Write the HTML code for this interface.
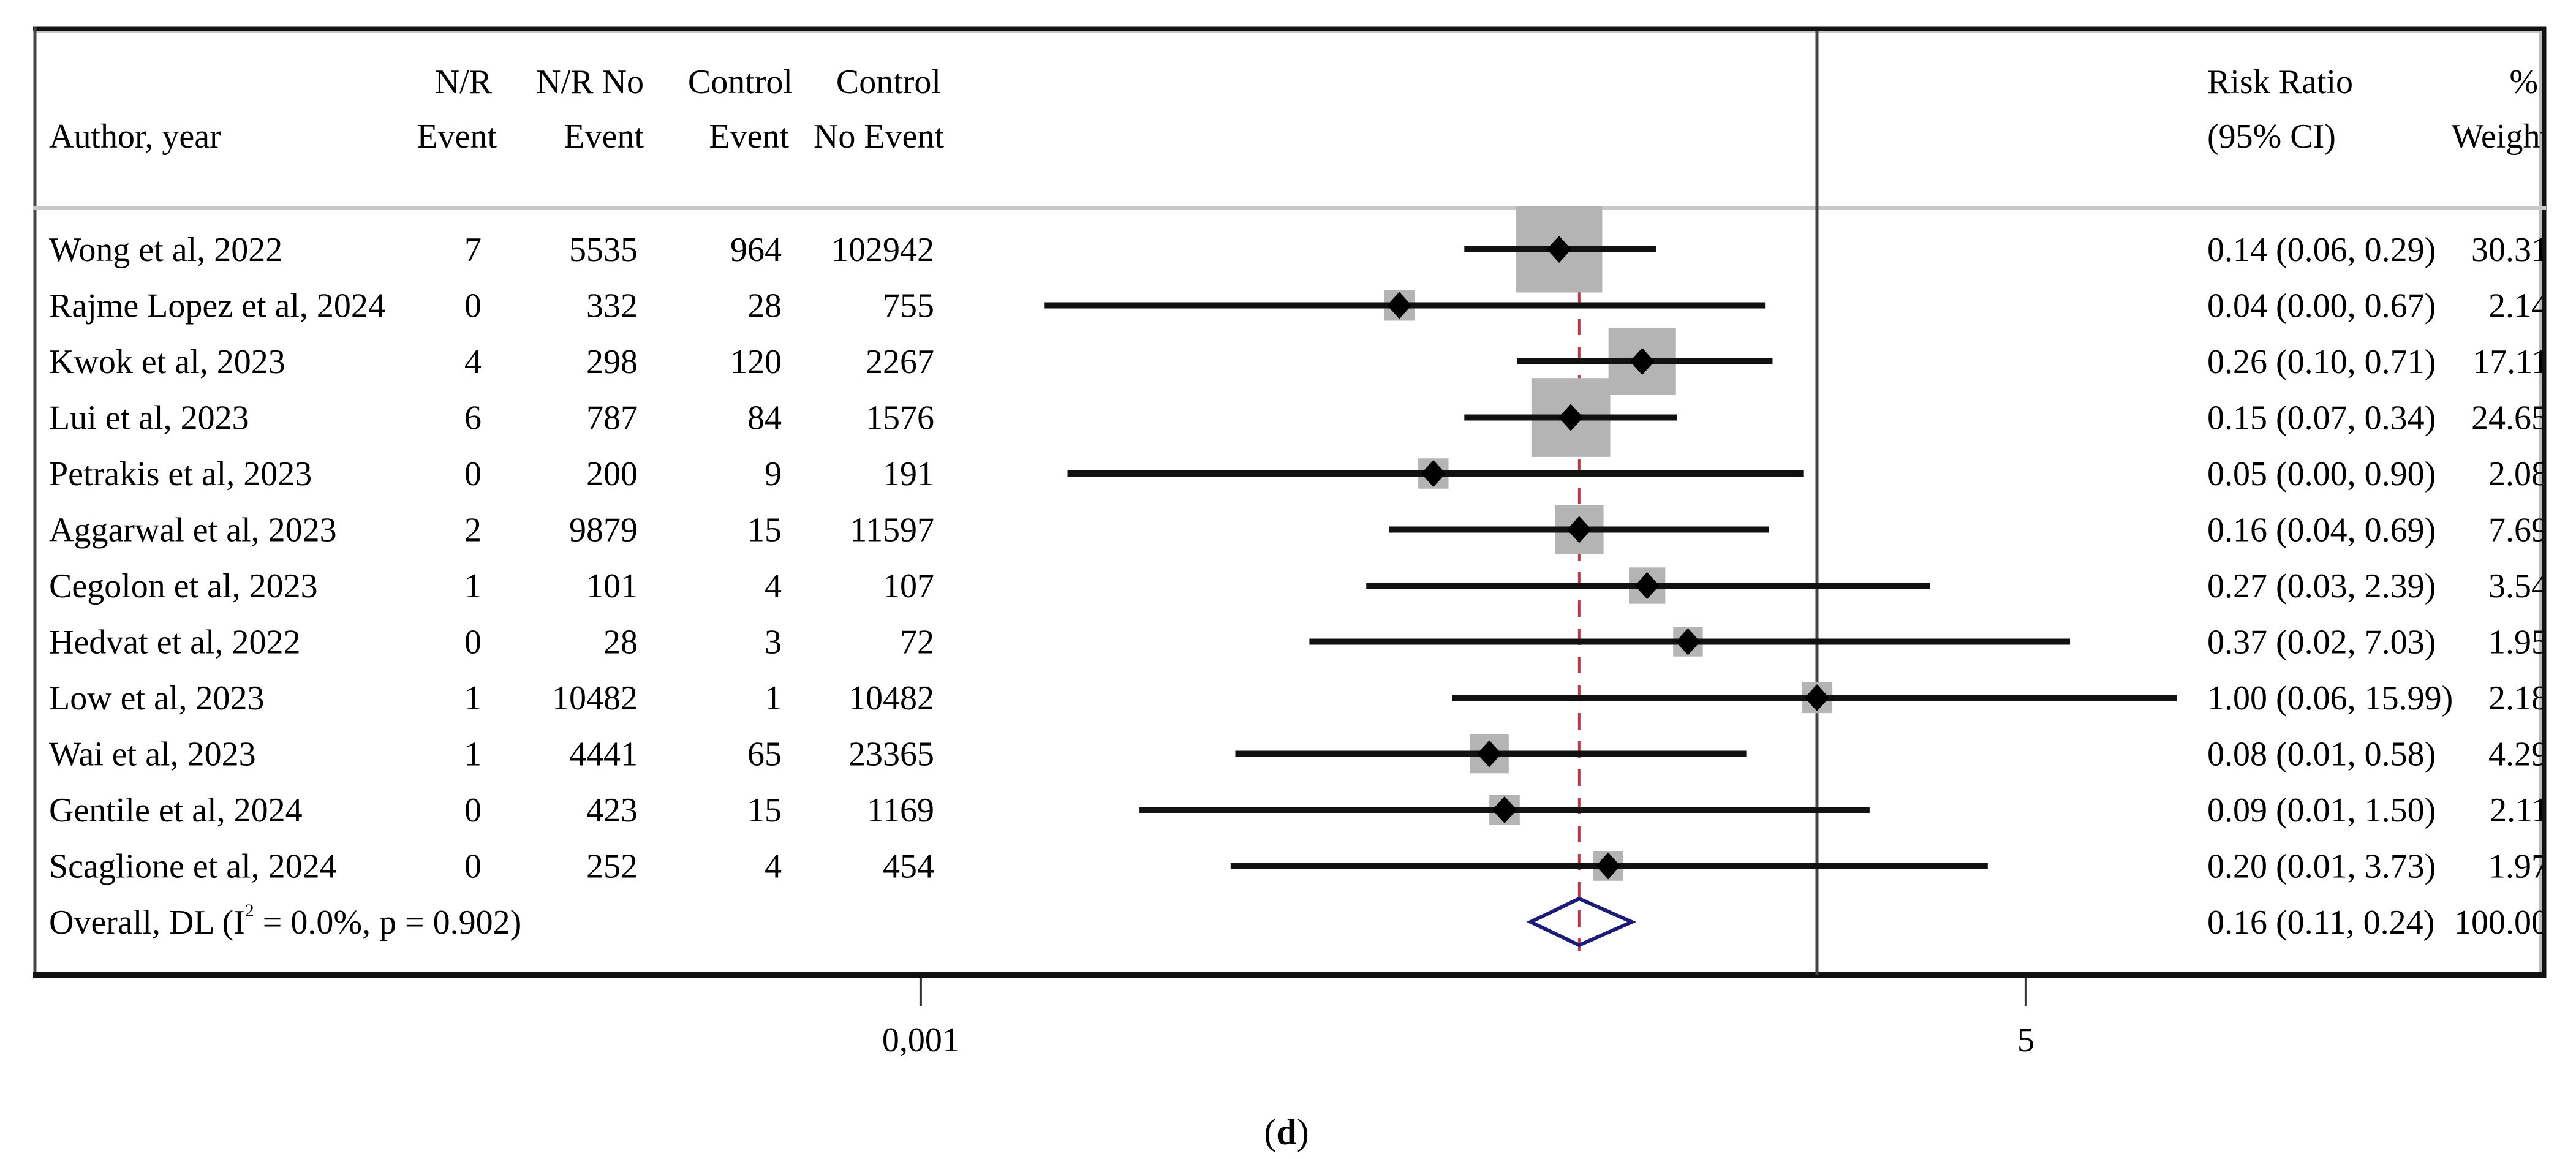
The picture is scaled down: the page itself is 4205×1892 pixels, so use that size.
<!DOCTYPE html>
<html><head><meta charset="utf-8"><style>
html,body{margin:0;padding:0;background:#fff;}
svg{display:block;}
text{font-family:"Liberation Serif",serif;font-size:56px;fill:#000;}
</style></head><body>
<svg id="chart" width="4205" height="1892" viewBox="0 0 4205 1892" xmlns="http://www.w3.org/2000/svg">
<defs><clipPath id="clipR"><rect x="0" y="0" width="4150" height="1892"/></clipPath></defs>
<g id="frame">
  <line x1="54" y1="47" x2="4156" y2="47" stroke="#111" stroke-width="7"/>
  <line x1="58" y1="52" x2="4150" y2="52" stroke="#c4c4c4" stroke-width="4"/>
  <line x1="57" y1="44" x2="57" y2="1597" stroke="#444" stroke-width="5"/>
  <line x1="4153" y1="44" x2="4153" y2="1597" stroke="#111" stroke-width="7"/>
  <line x1="4147" y1="52" x2="4147" y2="1590" stroke="#bbb" stroke-width="4"/>
  <line x1="54" y1="339" x2="4156" y2="339" stroke="#c8c8c8" stroke-width="6"/>
  <line x1="54" y1="1592" x2="4156" y2="1592" stroke="#111" stroke-width="10"/>
</g>
<g id="header">
  <text x="80" y="241">Author, year</text>
  <text text-anchor="end"><tspan x="803" y="152">N/R</tspan><tspan x="811" y="241">Event</tspan></text>
  <text text-anchor="end"><tspan x="1051" y="152">N/R No</tspan><tspan x="1051" y="241">Event</tspan></text>
  <text text-anchor="end"><tspan x="1294" y="152">Control</tspan><tspan x="1288" y="241">Event</tspan></text>
  <text text-anchor="end"><tspan x="1536" y="152">Control</tspan><tspan x="1541" y="241">No Event</tspan></text>
  <text><tspan x="3603" y="152">Risk Ratio</tspan><tspan x="3603" y="241">(95% CI)</tspan></text>
  <g clip-path="url(#clipR)"><text text-anchor="end"><tspan x="4143" y="152">%</tspan><tspan x="4162" y="241">Weight</tspan></text></g>
</g>
<g id="rows"></g>
<g id="marks"></g>
<g id="axis"></g>
<text x="2100" y="1868" text-anchor="middle" style="font-size:60px">(<tspan font-weight="bold">d</tspan>)</text>
</svg>
<script>
const studies = ["Wong et al, 2022","Rajme Lopez et al, 2024","Kwok et al, 2023","Lui et al, 2023","Petrakis et al, 2023","Aggarwal et al, 2023","Cegolon et al, 2023","Hedvat et al, 2022","Low et al, 2023","Wai et al, 2023","Gentile et al, 2024","Scaglione et al, 2024"];
const nrEvent = [7,0,4,6,0,2,1,0,1,1,0,0];
const nrNoEvent = [5535,332,298,787,200,9879,101,28,10482,4441,423,252];
const ctrlEvent = [964,28,120,84,9,15,4,3,1,65,15,4];
const ctrlNoEvent = [102942,755,2267,1576,191,11597,107,72,10482,23365,1169,454];
const rr = [0.137,0.04,0.26,0.15,0.052,0.16,0.27,0.37,1.00,0.08,0.09,0.20];
const ciLow = [0.066,0.0026,0.099,0.066,0.0031,0.037,0.031,0.020,0.06,0.0113,0.0054,0.0109];
const ciHigh = [0.29,0.67,0.71,0.34,0.90,0.69,2.39,7.03,15.99,0.58,1.50,3.73];
const ciText = ["0.14 (0.06, 0.29)","0.04 (0.00, 0.67)","0.26 (0.10, 0.71)","0.15 (0.07, 0.34)","0.05 (0.00, 0.90)","0.16 (0.04, 0.69)","0.27 (0.03, 2.39)","0.37 (0.02, 7.03)","1.00 (0.06, 15.99)","0.08 (0.01, 0.58)","0.09 (0.01, 1.50)","0.20 (0.01, 3.73)"];
const weights = [30.31,2.14,17.11,24.65,2.08,7.69,3.54,1.95,2.18,4.29,2.11,1.97];
const overall = [0.16,0.11,0.24];
const overallText = "0.16 (0.11, 0.24)";
const overallWeight = "100.00";
const tickValues = [0.001,5];
const tickLabels = ["0,001","5"];

const NS="http://www.w3.org/2000/svg";
const X0=2966, PXD=487.7;
function xs(v){return X0+Math.log10(v)*PXD;}
function ys(i){return 407+91.5*i;}
function mk(tag,attrs,parent){const e=document.createElementNS(NS,tag);for(const k in attrs)e.setAttribute(k,attrs[k]);parent.appendChild(e);return e;}
const rows=document.getElementById('rows'), marks=document.getElementById('marks'), axis=document.getElementById('axis');
const clipG=mk('g',{'clip-path':'url(#clipR)'},rows);

const nl=mk('line',{x1:xs(1),x2:xs(1),y1:50,y2:1592,stroke:'#444','stroke-width':5},marks);


const dl=mk('line',{x1:xs(overall[0]),x2:xs(overall[0]),y1:382,y2:1552,stroke:'#b83a48','stroke-width':4,'stroke-dasharray':'27 19'},marks);



for(let i=0;i<studies.length;i++){
  const y=ys(i), by=y+19;
  const t=mk('text',{x:80,y:by},rows); t.textContent=studies[i];
  
  
  const cols=[[nrEvent,786],[nrNoEvent,1041],[ctrlEvent,1276],[ctrlNoEvent,1525]];
  cols.forEach(c=>{const tt=mk('text',{x:c[1],y:by,'text-anchor':'end'},rows);tt.textContent=c[0][i];
    
    });
  const ct=mk('text',{x:3603,y:by},rows); ct.textContent=ciText[i];
  
  
  const wt=mk('text',{x:4160,y:by,'text-anchor':'end'},clipG); wt.textContent=weights[i].toFixed(2);
  
  

  const s=17+22.5*Math.sqrt(weights[i]);
  const cx=xs(rr[i]);
  const box=mk('rect',{x:cx-s/2,y:y-s/2,width:s,height:s,fill:'#b4b4b4'},marks);
  
  
  const ci=mk('line',{x1:xs(ciLow[i]),x2:xs(ciHigh[i]),y1:y,y2:y,stroke:'#111','stroke-width':10},marks);
  
  
  const pt=mk('polygon',{points:`${cx},${y-22} ${cx+20},${y} ${cx},${y+22} ${cx-20},${y}`,fill:'#000'},marks);
  
  
}
const oy=ys(12), oby=oy+19;
const ot=mk('text',{x:80,y:oby},rows);
ot.innerHTML='Overall, DL (I<tspan dy="-28" style="font-size:30px">2</tspan><tspan dy="28"> = 0.0%, p = 0.902)</tspan>';


const oc=mk('text',{x:3603,y:oby},rows); oc.textContent=overallText;


const ow=mk('text',{x:4160,y:oby,'text-anchor':'end'},clipG); ow.textContent=overallWeight;


const dx=xs(overall[0]), dL=xs(overall[1]), dR=xs(overall[2]);
const dia=mk('polygon',{points:`${dL},${oy} ${dx},${oy-38} ${dR},${oy} ${dx},${oy+38}`,fill:'none',stroke:'#1c1c78','stroke-width':6},marks);



tickValues.forEach((v,k)=>{
  const x=xs(v);
  const tk=mk('line',{x1:x,x2:x,y1:1597,y2:1642,stroke:'#333','stroke-width':4},axis);
  
  
  const tl=mk('text',{x:x,y:1716,'text-anchor':'middle'},axis); tl.textContent=tickLabels[k];
  
  
});
</script>
</body></html>
